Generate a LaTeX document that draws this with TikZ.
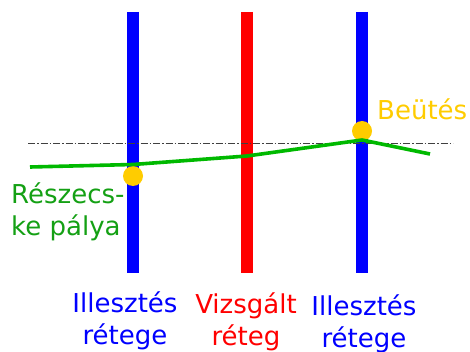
\documentclass[tikz,border=0pt]{standalone}
\usepackage{fontspec}
\setmainfont{DejaVu Sans}
\definecolor{trackgreen}{RGB}{0,185,0}
\definecolor{labelgreen}{RGB}{20,160,20}
\definecolor{hitgold}{RGB}{255,204,0}
\begin{document}
\begin{tikzpicture}[x=1pt,y=-1pt,
  layer/.style={line width=12.6pt},
  lbl/.style={font=\fontsize{26}{32}\selectfont, inner sep=0pt, align=center, anchor=base},
  hit/.style={circle, fill=hitgold, minimum size=20pt, inner sep=0pt}]
\useasboundingbox (0,0) rectangle (470,352);

% detector layers
\draw[layer, blue] (133,12) coordinate (l1t) -- (133,273) coordinate (l1b);
\draw[layer, red]  (247,12) coordinate (l2t) -- (247,273) coordinate (l2b);
\draw[layer, blue] (362,12) coordinate (l3t) -- (362,273) coordinate (l3b);

% reference axis
\draw[black!75, line width=0.9pt, dash pattern=on 7pt off 2pt on 1.5pt off 2pt]
  (28,143) coordinate (ax1) -- (453,143) coordinate (ax2);

% hits
\node[hit] (h1) at (133,176) {};
\node[hit] (h2) at (362,131) {};

% particle track
\coordinate (t0) at (30,167);
\coordinate (t1) at (133,164.5);
\coordinate (t2) at (247,156);
\coordinate (t3) at (362,140);
\coordinate (t4) at (430,154);
\draw[trackgreen, line width=3.6pt, line join=round] (t0) -- (t1) -- (t2) -- (t3) -- (t4);

% labels (base anchor sits on the last line of each node)
\node[lbl, text=hitgold, anchor=base west] (beutes) at (377,120) {Beütés};
\node[lbl, text=labelgreen, anchor=base west, align=left] (palya) at (11,235) {Részecs-\\ke pálya};
\node[lbl, text=blue] (ill1) at (125,344) {Illesztés\\rétege};
\node[lbl, text=red] (vizs) at (246,345) {Vizsgált\\réteg};
\node[lbl, text=blue] (ill2) at (364,347) {Illesztés\\rétege};
\end{tikzpicture}
\end{document}
